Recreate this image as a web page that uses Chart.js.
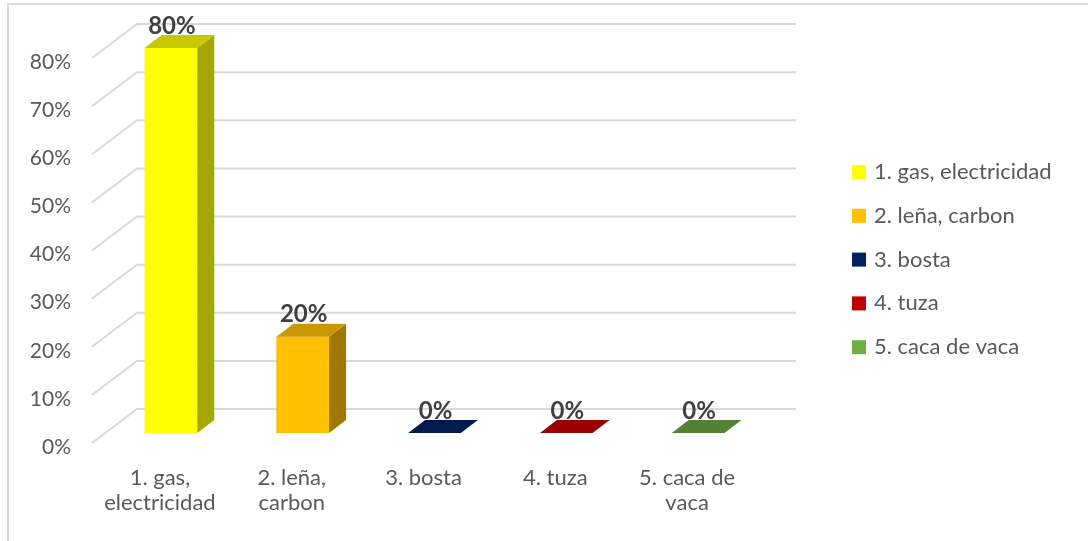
<!DOCTYPE html>
<html>
<head>
<meta charset="utf-8">
<script src="https://cdn.jsdelivr.net/npm/chart.js@4"></script>
<style>
  html, body { margin: 0; padding: 0; background: #fff; overflow: hidden; }
  #frame {
    position: absolute; left: 7px; top: 3px; width: 1200px; height: 600px;
    border: 2px solid #d9d9d9; box-sizing: border-box;
  }
  #chart { position: absolute; left: 0; top: 0; }
</style>
</head>
<body>
<div id="frame"></div>
<canvas id="chart" width="1088" height="541"></canvas>
<script>
'use strict';

// ─── Data ─────────────────────────────────────────────────────────────────────

const categories = [
  ['1. gas,', 'electricidad'],
  ['2. leña,', 'carbon'],
  ['3. bosta'],
  ['4. tuza'],
  ['5. caca de', 'vaca'],
];
const legendNames = [
  '1. gas, electricidad',
  '2. leña, carbon',
  '3. bosta',
  '4. tuza',
  '5. caca de vaca',
];
const values = [0.8, 0.2, 0, 0, 0];
const yTicks = [0, 0.1, 0.2, 0.3, 0.4, 0.5, 0.6, 0.7, 0.8];

// ─── Styles ───────────────────────────────────────────────────────────────────

const FRONT = ['#ffff00', '#ffc000', '#002060', '#c00000', '#70ad47'];
const TOP = ['#c8c800', '#c99700', '#001a4d', '#990000', '#548235'];
const SIDE = ['#a6a600', '#a07800', '#001540', '#800000', '#456b2b'];

const TEXT = '#595959';
const GRID = '#d9d9d9';
const FONT = 'Lato, "Open Sans", sans-serif';

const DEPTH = { dx: 17, dy: -13 };  // bar depth
const WALL = { dx: 32, dy: -24 };   // back wall offset
const FLOOR = { dx: -13, dy: 10 };  // front floor edge offset

const pct = (v) => `${Math.round(v * 100)}%`;

// ─── 3D plugin ────────────────────────────────────────────────────────────────

const poly = (ctx, pts, color) => {
  ctx.beginPath();
  ctx.moveTo(pts[0][0], pts[0][1]);
  pts.slice(1).forEach((p) => ctx.lineTo(p[0], p[1]));
  ctx.closePath();
  ctx.fillStyle = color;
  ctx.fill();
};

const threeD = {
  id: 'threeD',
  beforeDatasetsDraw(chart) {
    const { ctx, chartArea, scales } = chart;
    const ys = scales.y;
    ctx.save();
    ctx.strokeStyle = GRID;
    ctx.lineWidth = 2;
    yTicks.forEach((v) => {
      const y = ys.getPixelForValue(v);
      ctx.beginPath();
      ctx.moveTo(chartArea.left + FLOOR.dx, y + FLOOR.dy);
      ctx.lineTo(chartArea.left + WALL.dx, y + WALL.dy);
      ctx.lineTo(chartArea.right + WALL.dx, y + WALL.dy);
      ctx.stroke();
    });
    ctx.restore();
  },
  afterDatasetsDraw(chart) {
    const { ctx, scales } = chart;
    const meta = chart.getDatasetMeta(0);
    ctx.save();
    meta.data.forEach((bar, i) => {
      const { x, y, base, width } = bar.getProps(['x', 'y', 'base', 'width'], true);
      const l = x - width / 2;
      const r = x + width / 2;
      poly(ctx, [[r, y], [r + DEPTH.dx, y + DEPTH.dy], [r + DEPTH.dx, base + DEPTH.dy], [r, base]], SIDE[i]);
      poly(ctx, [[l, y], [r, y], [r + DEPTH.dx, y + DEPTH.dy], [l + DEPTH.dx, y + DEPTH.dy]], TOP[i]);

      // value label
      ctx.fillStyle = '#404040';
      ctx.font = `bold 24px ${FONT}`;
      ctx.textAlign = 'center';
      ctx.textBaseline = 'middle';
      ctx.fillText(pct(values[i]), x + 1, y - 22);
    });

    // y tick labels
    const ys = scales.y;
    ctx.fillStyle = TEXT;
    ctx.font = `21px ${FONT}`;
    ctx.textAlign = 'right';
    ctx.textBaseline = 'middle';
    yTicks.forEach((v) => ctx.fillText(pct(v), 71, ys.getPixelForValue(v) + 14));

    // category labels
    const xs = scales.x;
    ctx.font = `22px ${FONT}`;
    ctx.textAlign = 'center';
    categories.forEach((lines, i) => {
      const cx = xs.getPixelForValue(i) - 11;
      lines.forEach((t, k) => ctx.fillText(t, cx, 478 + k * 25));
    });

    // legend
    ctx.textAlign = 'left';
    legendNames.forEach((name, i) => {
      const cy = 172 + i * 43.8;
      ctx.fillStyle = FRONT[i];
      ctx.fillRect(852, cy - 7, 14, 14);
      ctx.fillStyle = TEXT;
      ctx.fillText(name, 874, cy);
    });
    ctx.restore();
  },
};

// ─── Chart ────────────────────────────────────────────────────────────────────

new Chart(document.getElementById('chart').getContext('2d'), {
  type: 'bar',
  data: {
    labels: legendNames,
    datasets: [{
      data: values,
      backgroundColor: FRONT,
      borderWidth: 0,
      barPercentage: 0.4,
      categoryPercentage: 1,
    }],
  },
  options: {
    responsive: false,
    animation: false,
    layout: { padding: { left: 105, right: 324, top: 48, bottom: 108 } },
    plugins: { legend: { display: false }, tooltip: { enabled: false } },
    scales: {
      x: { display: false },
      y: { display: false, min: 0, max: 0.8 },
    },
  },
  plugins: [threeD],
});
</script>
</body>
</html>
